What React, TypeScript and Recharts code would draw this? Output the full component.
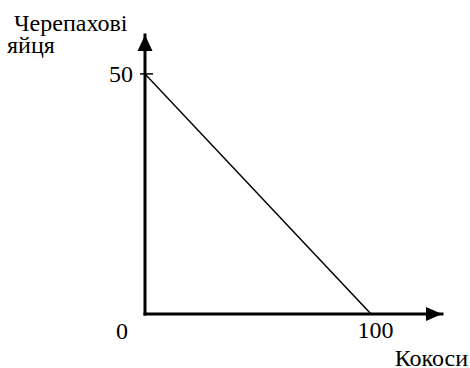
import React from 'react';
import { LineChart, Line, XAxis, YAxis, ReferenceDot } from 'recharts';

const coconuts = [0, 100];
const turtleEggs = [50, 0];
const xTicks = [0, 100];
const yTicks = [50];
const xMax = 131.4;
const yMax = 58.1;
const yTitleLines = ['Черепахові', 'яйця'];
const xTitle = 'Кокоси';

const data = coconuts.map((c, i) => ({ x: c, y: turtleEggs[i] }));

const FONT = "'Liberation Serif', 'DejaVu Serif', serif";
const textStyle: React.CSSProperties = { fontFamily: FONT, fontSize: 24, fill: '#000' };

const XTick = (props: any) => {
  const { x, y, payload } = props;
  const v = payload.value;
  const dx = v === 0 ? -23 : 4.5;
  const dy = v === 0 ? 25 : 24;
  return (
    <text x={x + dx} y={y + dy} textAnchor="middle" fontFamily={FONT} style={textStyle}>
      {v}
    </text>
  );
};

const YTick = (props: any) => {
  const { x, y, payload } = props;
  return (
    <g>
      <line x1={x - 5} x2={x + 8} y1={y} y2={y} stroke="#000" strokeWidth={1.5} />
      <text x={x - 12} y={y + 8} textAnchor="end" fontFamily={FONT} style={textStyle}>
        {payload.value}
      </text>
    </g>
  );
};

const YTitle = (props: any) => {
  const vb = props.viewBox || { x: 0, y: 35 };
  return (
    <g>
      <text x={vb.x + 14} y={vb.y - 4} fontFamily={FONT} style={textStyle}>
        {yTitleLines[0]}
      </text>
      <text x={vb.x + 7} y={vb.y + 18} fontFamily={FONT} style={textStyle}>
        {yTitleLines[1]}
      </text>
    </g>
  );
};

const XTitle = (props: any) => {
  const vb = props.viewBox || { x: 145, y: 314, width: 297 };
  return (
    <text x={vb.x + vb.width + 26} y={vb.y + 52} textAnchor="end" fontFamily={FONT} style={textStyle}>
      {xTitle}
    </text>
  );
};

const ArrowRight = (props: any) => {
  const { cx, cy } = props;
  return <polygon points={`${cx},${cy} ${cx - 16},${cy - 7} ${cx - 16},${cy + 7}`} fill="#000" />;
};

const ArrowUp = (props: any) => {
  const { cx, cy } = props;
  return <polygon points={`${cx},${cy} ${cx - 7.5},${cy + 16} ${cx + 7.5},${cy + 16}`} fill="#000" />;
};

export default function App() {
  return (
    <div style={{ position: 'absolute', left: 0, top: 0, background: '#fff', fontFamily: FONT }}>
      <LineChart width={470} height={368} data={data} margin={{ top: 35, right: 28, bottom: 0, left: 0 }}>
        <XAxis
          type="number"
          dataKey="x"
          domain={[0, xMax]}
          ticks={xTicks}
          tick={<XTick />}
          tickLine={false}
          tickSize={0}
          tickMargin={0}
          height={54}
          axisLine={{ stroke: '#000', strokeWidth: 3, strokeLinecap: 'square' }}
          allowDataOverflow
          label={<XTitle />}
        />
        <YAxis
          type="number"
          domain={[0, yMax]}
          ticks={yTicks}
          tick={<YTick />}
          tickLine={false}
          tickSize={0}
          tickMargin={0}
          width={145}
          axisLine={{ stroke: '#000', strokeWidth: 3, strokeLinecap: 'square' }}
          allowDataOverflow
          label={<YTitle />}
        />
        <Line
          type="linear"
          dataKey="y"
          stroke="#000"
          strokeWidth={1.5}
          dot={false}
          isAnimationActive={false}
        />
        <ReferenceDot x={xMax} y={0} r={0} shape={<ArrowRight />} ifOverflow="visible" />
        <ReferenceDot x={0} y={yMax} r={0} shape={<ArrowUp />} ifOverflow="visible" />
      </LineChart>
    </div>
  );
}
